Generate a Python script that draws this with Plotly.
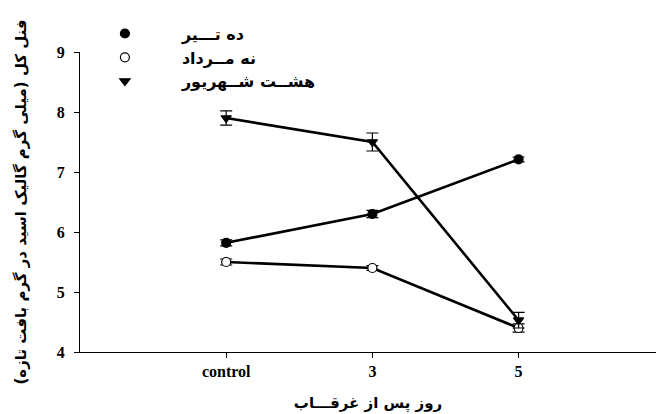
import plotly.graph_objects as go

categories = ["control", "3", "5"]
x_pos = [1, 2, 3]

series_names = ["ده تـــیر", "نه مــرداد", "هشــت شــهریور"]
tir_vals = [5.82, 6.3, 7.21]
tir_err = [0.05, 0.06, 0.04]
mordad_vals = [5.5, 5.4, 4.4]
mordad_err = [0.05, 0.04, 0.07]
shahrivar_vals = [7.9, 7.5, 4.53]
shahrivar_err = [0.12, 0.15, 0.13]

y_ticks = [4, 5, 6, 7, 8, 9]

fig = go.Figure()

def add(name, vals, errs, symbol, fill):
    fig.add_trace(go.Scatter(
        x=x_pos, y=vals, mode="lines", showlegend=False, hoverinfo="skip",
        line=dict(color="black", width=2.6),
    ))
    fig.add_trace(go.Scatter(
        x=x_pos, y=vals, name="<b>%s</b>" % name, mode="markers",
        marker=dict(symbol=symbol, size=9, color=fill,
                    line=dict(color="black", width=1.2)),
        error_y=dict(type="data", array=errs, visible=True,
                     color="black", thickness=1.2, width=6),
    ))

add(series_names[0], tir_vals, tir_err, "circle", "black")
add(series_names[1], mordad_vals, mordad_err, "circle", "white")
add(series_names[2], shahrivar_vals, shahrivar_err, "triangle-down", "black")

tick_font = dict(family="Liberation Serif", size=16, color="black")

fig.update_layout(
    width=656, height=414,
    margin=dict(l=80, r=0, t=52, b=62),
    plot_bgcolor="white", paper_bgcolor="white",
    showlegend=True,
    legend=dict(x=-0.021, y=1.118, xanchor="left", yanchor="top",
                font=dict(family="DejaVu Sans", size=16, color="black"),
                itemwidth=104, tracegroupgap=0, bgcolor="rgba(0,0,0,0)",
                traceorder="normal"),
    xaxis=dict(range=[0, 3.94], tickvals=x_pos,
               ticktext=["<b>%s</b>" % c for c in categories],
               showgrid=False, zeroline=False, showline=True,
               linecolor="black", linewidth=1.2, ticks="outside",
               ticklen=5, tickcolor="black",
               tickfont=tick_font,
               title=dict(text="<b>روز پس از غرقـــاب</b>",
                          font=dict(family="DejaVu Sans", size=15, color="black"),
                          standoff=18)),
    yaxis=dict(range=[4, 9], tickvals=y_ticks,
               ticktext=["<b>%d</b>" % v for v in y_ticks],
               showgrid=False, zeroline=False, showline=True,
               linecolor="black", linewidth=1.2, ticks="outside",
               ticklen=5, tickcolor="black", ticklabelstandoff=6,
               tickfont=tick_font,
               title=dict(text="<b>فنل کل (میلی گرم گالیک اسید در گرم بافت تازه)</b>",
                          font=dict(family="DejaVu Sans", size=15, color="black"),
                          standoff=26)),
)
fig.update_traces(cliponaxis=False)

fig.write_html("out.html")
